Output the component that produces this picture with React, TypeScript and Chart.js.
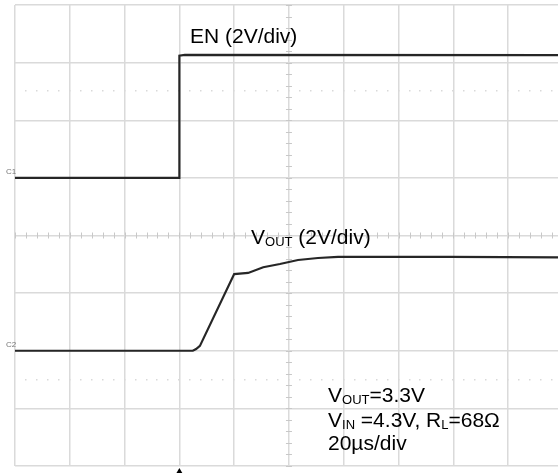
import React, { useEffect, useRef } from "react";
import { Chart, registerables } from "chart.js";

Chart.register(...registerables);

// Horizontal: time in µs (20 µs/div); vertical: divisions (2 V/div)
const usPerDiv = 20;
const timeMax = 198.2;
const triggerTime = 60;
const voltsPerDiv = 2;
const enGroundDiv = 1;
const voutGroundDiv = -2;

const enTime = [0, 59.9, 60, 62, 198.2];
const enVolts = [0, 0, 4.24, 4.27, 4.26];

const voutTime = [0, 64.9, 66.1, 67.5, 80.0, 85.1, 90.6, 96.7, 103.3, 110.6, 117.9, 158.8, 198.2];
const voutVolts = [0, 0, 0.06, 0.17, 2.66, 2.7, 2.9, 3.01, 3.15, 3.22, 3.26, 3.26, 3.24];

const FONT = '"Liberation Sans", Arial, Helvetica, sans-serif';
const TRACE = "#262626";
const GRID = "#dadada";

const toPoints = (t: number[], v: number[], ground: number) =>
  t.map((x, i) => ({ x, y: ground + v[i] / voltsPerDiv }));

const scopeDecor = {
  id: "scopeDecor",
  beforeDatasetsDraw(chart: any) {
    const { ctx, scales, chartArea } = chart;
    const xs = scales.x;
    const ys = scales.y;
    ctx.save();
    const cx = xs.getPixelForValue(usPerDiv * 5);
    const cy = ys.getPixelForValue(0);
    ctx.strokeStyle = "#c8c8c8";
    ctx.lineWidth = 1;
    ctx.beginPath();
    for (let d = -4; d <= 4.001; d += 0.2) {
      const y = Math.round(ys.getPixelForValue(d)) + 0.5;
      ctx.moveTo(cx - 3, y);
      ctx.lineTo(cx + 3, y);
    }
    for (let t = 0; t <= timeMax; t += usPerDiv / 5) {
      const x = Math.round(xs.getPixelForValue(t)) + 0.5;
      ctx.moveTo(x, cy - 3);
      ctx.lineTo(x, cy + 3);
    }
    ctx.stroke();
    ctx.fillStyle = "#d9d9d9";
    [2.5, -2.5].forEach((d) => {
      const y = ys.getPixelForValue(d);
      for (let t = usPerDiv / 5; t < timeMax; t += usPerDiv / 5) {
        const x = xs.getPixelForValue(t);
        ctx.fillRect(Math.round(x) - 1, Math.round(y) - 1, 1.5, 1.5);
      }
    });
    // trigger marker
    const tx = xs.getPixelForValue(triggerTime);
    const by = chartArea.bottom;
    ctx.fillStyle = "#000";
    ctx.beginPath();
    ctx.moveTo(tx, by + 2);
    ctx.lineTo(tx - 3.5, by + 8);
    ctx.lineTo(tx + 3.5, by + 8);
    ctx.closePath();
    ctx.fill();
    ctx.restore();
  },
};

const Sub = ({ children }: { children: React.ReactNode }) => (
  <span style={{ fontSize: 13, verticalAlign: "-2px", lineHeight: 0 }}>{children}</span>
);

const textStyle = (left: number, top: number): React.CSSProperties => ({
  position: "absolute",
  left,
  top,
  fontFamily: FONT,
  fontSize: 21,
  lineHeight: "21px",
  color: "#000",
  whiteSpace: "nowrap",
});

const smallStyle = (top: number): React.CSSProperties => ({
  position: "absolute",
  left: 6,
  top,
  fontFamily: FONT,
  fontSize: 8,
  lineHeight: "8px",
  color: "#777",
});

export default function App() {
  const ref = useRef<HTMLCanvasElement>(null);
  useEffect(() => {
    if (!ref.current) return;
    const chart = new Chart(ref.current, {
      type: "line",
      data: {
        datasets: [
          {
            label: "EN",
            data: toPoints(enTime, enVolts, enGroundDiv),
            borderColor: TRACE,
            borderWidth: 2.2,
            pointRadius: 0,
            tension: 0,
          },
          {
            label: "VOUT",
            data: toPoints(voutTime, voutVolts, voutGroundDiv),
            borderColor: TRACE,
            borderWidth: 2.2,
            pointRadius: 0,
            tension: 0,
          },
        ],
      },
      options: {
        responsive: false,
        animation: false,
        layout: { padding: { left: 15, top: 5, right: 0, bottom: 7 } },
        plugins: { legend: { display: false }, tooltip: { enabled: false } },
        scales: {
          x: {
            type: "linear",
            min: 0,
            max: timeMax,
            ticks: { display: false, stepSize: usPerDiv, includeBounds: false },
            grid: { color: GRID, lineWidth: 1.5, drawTicks: false },
            border: { display: false },
          },
          y: {
            type: "linear",
            min: -4,
            max: 4,
            ticks: { display: false, stepSize: 1 },
            grid: { color: GRID, lineWidth: 1.5, drawTicks: false },
            border: { display: false },
          },
        },
      },
      plugins: [scopeDecor],
    });
    return () => chart.destroy();
  }, []);

  return (
    <div style={{ position: "fixed", left: 0, top: 0, width: 558, height: 473, background: "#fff" }}>
      <canvas ref={ref} width={558} height={473} style={{ display: "block" }} />
      <div style={textStyle(190, 25)}>EN (2V/div)</div>
      <div style={textStyle(251, 226)}>
        V<Sub>OUT</Sub> (2V/div)
      </div>
      <div style={textStyle(328, 384)}>
        V<Sub>OUT</Sub>=3.3V
      </div>
      <div style={textStyle(328, 409)}>
        V<Sub>IN</Sub> =4.3V, R<Sub>L</Sub>=68Ω
      </div>
      <div style={textStyle(328, 432)}>20µs/div</div>
      <div style={smallStyle(168)}>C1</div>
      <div style={smallStyle(341)}>C2</div>
    </div>
  );
}
